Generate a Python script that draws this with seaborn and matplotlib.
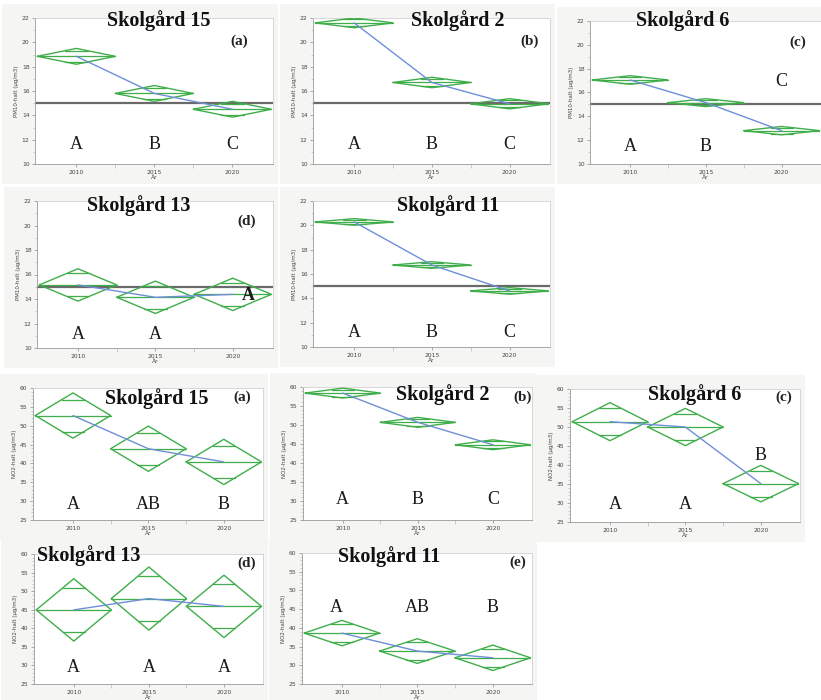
import numpy as np
import pandas as pd
import matplotlib
matplotlib.use("Agg")
import matplotlib.pyplot as plt
from matplotlib.patches import Rectangle
from matplotlib.ticker import MultipleLocator, FixedLocator
import seaborn as sns

# ---------------- data ----------------
years = ["2010", "2015", "2020"]

# PM10 (µg/m3): means and 95% CI half-widths, letters
pm10_s15_mean = [18.85, 15.80, 14.50]
pm10_s15_ci = [0.65, 0.65, 0.65]
pm10_s15_letters = ["A", "B", "C"]

pm10_s2_mean = [21.60, 16.70, 14.95]
pm10_s2_ci = [0.40, 0.43, 0.42]
pm10_s2_letters = ["A", "B", "C"]

pm10_s6_mean = [17.05, 15.15, 12.80]
pm10_s6_ci = [0.36, 0.33, 0.35]
pm10_s6_letters = ["A", "B", "C"]

pm10_s13_mean = [15.15, 14.14, 14.38]
pm10_s13_ci = [1.32, 1.32, 1.32]
pm10_s13_letters = ["A", "A", "A"]

pm10_s11_mean = [20.28, 16.74, 14.61]
pm10_s11_ci = [0.27, 0.27, 0.27]
pm10_s11_letters = ["A", "B", "C"]

pm10_limit = 15

# NO2 (µg/m3)
no2_s15_mean = [52.7, 43.9, 40.4]
no2_s15_ci = [6.0, 6.0, 6.0]
no2_s15_letters = ["A", "AB", "B"]

no2_s2_mean = [58.4, 50.7, 44.8]
no2_s2_ci = [1.3, 1.3, 1.3]
no2_s2_letters = ["A", "B", "C"]

no2_s6_mean = [51.4, 50.0, 35.1]
no2_s6_ci = [5.0, 4.9, 4.8]
no2_s6_letters = ["A", "A", "B"]

no2_s13_mean = [44.95, 48.0, 45.9]
no2_s13_ci = [8.4, 8.5, 8.4]
no2_s13_letters = ["A", "A", "A"]

no2_s11_mean = [38.6, 33.8, 32.0]
no2_s11_ci = [3.4, 3.3, 3.4]
no2_s11_letters = ["A", "AB", "B"]

# ---------------- style ----------------
sns.set_theme(style="white")
plt.rcParams["font.family"] = ["DejaVu Sans"]
SERIF = ["Liberation Serif", "DejaVu Serif"]

W, H = 821, 700
fig = plt.figure(figsize=(W / 100, H / 100), dpi=100)
fig.patch.set_facecolor("white")

GREEN = "#3fae4a"
BLUE = "#6e8fd8"
GRAY_BG = "#f5f5f3"

pm_layout = dict(ylim=(10, 22), major=2, minor=1, ylabel="PM10-halt (µg/m3)")
no2_layout = dict(ylim=(25, 60), major=5, minor=1, ylabel="NO2-halt (µg/m3)")

panels = [
    # PM10
    dict(lay=pm_layout, title="Skolgård 15", mean=pm10_s15_mean, ci=pm10_s15_ci, letters=pm10_s15_letters,
         tag="(a)", box=(35, 273, 18, 164), title_xy=(0.52, 0.985), tag_xy=(0.86, 0.84),
         lx=[0, 1, 2], ly=[11.6, 11.6, 11.6], lbold=[False] * 3, limit=True),
    dict(lay=pm_layout, title="Skolgård 2", mean=pm10_s2_mean, ci=pm10_s2_ci, letters=pm10_s2_letters,
         tag="(b)", box=(313, 550, 18, 164), title_xy=(0.61, 0.985), tag_xy=(0.915, 0.84),
         lx=[0, 1, 2], ly=[11.6, 11.6, 11.6], lbold=[False] * 3, limit=True),
    dict(lay=pm_layout, title="Skolgård 6", mean=pm10_s6_mean, ci=pm10_s6_ci, letters=pm10_s6_letters,
         tag="(c)", box=(590, 821, 21, 164), title_xy=(0.40, 1.0), tag_xy=(0.90, 0.85),
         lx=[0, 1, 2], ly=[11.5, 11.5, 16.9], lbold=[False] * 3, limit=True),
    dict(lay=pm_layout, title="Skolgård 13", mean=pm10_s13_mean, ci=pm10_s13_ci, letters=pm10_s13_letters,
         tag="(d)", box=(37, 273, 201, 348), title_xy=(0.43, 0.97), tag_xy=(0.89, 0.86),
         lx=[0, 1, 2.2], ly=[11.1, 11.1, 14.3], lbold=[False, False, True], limit=True),
    dict(lay=pm_layout, title="Skolgård 11", mean=pm10_s11_mean, ci=pm10_s11_ci, letters=pm10_s11_letters,
         tag="", box=(313, 550, 201, 347), title_xy=(0.57, 0.966), tag_xy=(0.9, 0.86),
         lx=[0, 1, 2], ly=[11.2, 11.2, 11.2], lbold=[False] * 3, limit=True),
    # NO2
    dict(lay=no2_layout, title="Skolgård 15", mean=no2_s15_mean, ci=no2_s15_ci, letters=no2_s15_letters,
         tag="(a)", box=(33, 263, 388, 520), title_xy=(0.54, 0.92), tag_xy=(0.91, 0.93),
         lx=[0, 1, 2], ly=[29.0, 29.0, 29.0], lbold=[False] * 3, limit=False),
    dict(lay=no2_layout, title="Skolgård 2", mean=no2_s2_mean, ci=no2_s2_ci, letters=no2_s2_letters,
         tag="(b)", box=(303, 532, 387, 520), title_xy=(0.61, 0.94), tag_xy=(0.96, 0.92),
         lx=[0, 1, 2], ly=[30.3, 30.3, 30.3], lbold=[False] * 3, limit=False),
    dict(lay=no2_layout, title="Skolgård 6", mean=no2_s6_mean, ci=no2_s6_ci, letters=no2_s6_letters,
         tag="(c)", box=(570, 800, 389, 522), title_xy=(0.54, 0.955), tag_xy=(0.93, 0.94),
         lx=[0.07, 1, 2], ly=[29.6, 29.6, 42.4], lbold=[False] * 3, limit=False),
    dict(lay=no2_layout, title="Skolgård 13", mean=no2_s13_mean, ci=no2_s13_ci, letters=no2_s13_letters,
         tag="(d)", box=(34, 263, 554, 684), title_xy=(0.24, 0.985), tag_xy=(0.93, 0.93),
         lx=[0, 1, 2], ly=[29.5, 29.5, 29.5], lbold=[False] * 3, limit=False),
    dict(lay=no2_layout, title="Skolgård 11", mean=no2_s11_mean, ci=no2_s11_ci, letters=no2_s11_letters,
         tag="(e)", box=(302, 532, 553, 684), title_xy=(0.38, 0.97), tag_xy=(0.94, 0.93),
         lx=[-0.08, 1, 2], ly=[45.4, 45.4, 45.4], lbold=[False] * 3, limit=False),
]

HALF = 0.5  # diamond half width (category units)

for p in panels:
    l, r, t, b = p["box"]
    lay = p["lay"]
    # light screenshot-like backdrop
    bx0, bx1 = l - 33, min(r + 5, W)
    by0, by1 = t - 14, min(b + 20, H)
    fig.patches.append(Rectangle((bx0 / W, 1 - by1 / H), (bx1 - bx0) / W, (by1 - by0) / H,
                                 transform=fig.transFigure, facecolor=GRAY_BG, edgecolor="none", zorder=0))
    ax = fig.add_axes([l / W, 1 - b / H, (r - l) / W, (b - t) / H])
    ax.set_facecolor("white")
    ax.set_zorder(1)

    df = pd.DataFrame({"pos": np.arange(len(years)), "year": years,
                       "mean": p["mean"], "ci": p["ci"]})

    # diamonds
    for _, row in df.iterrows():
        x, m, c = row["pos"], row["mean"], row["ci"]
        ax.plot([x - HALF, x, x + HALF, x, x - HALF], [m, m + c, m, m - c, m],
                color=GREEN, lw=1.0, zorder=3)
        ax.plot([x - HALF, x + HALF], [m, m], color=GREEN, lw=0.9, zorder=3)
        h = c / np.sqrt(2)
        w = HALF * (1 - h / c)
        ax.plot([x - w, x + w], [m + h, m + h], color=GREEN, lw=0.9, zorder=3)
        ax.plot([x - w, x + w], [m - h, m - h], color=GREEN, lw=0.9, zorder=3)

    # means line
    sns.lineplot(data=df, x="pos", y="mean", ax=ax, color=BLUE, lw=1.0, zorder=4,
                 estimator=None, sort=False)

    if p["limit"]:
        ax.axhline(pm10_limit, color="#6a6a6a", lw=1.6, zorder=2)

    ax.set_xlim(-0.53, 2.52)
    ax.set_ylim(*lay["ylim"])
    ax.xaxis.set_major_locator(FixedLocator([0, 1, 2]))
    ax.set_xticklabels(years)
    ax.xaxis.set_minor_locator(FixedLocator([0.5, 1.5]))
    ax.yaxis.set_major_locator(MultipleLocator(lay["major"]))
    ax.yaxis.set_minor_locator(MultipleLocator(lay["minor"]))
    ax.tick_params(axis="both", which="major", labelsize=4.3, length=2.5, width=0.5,
                   color="#888888", labelcolor="#444444", pad=1.5, direction="out",
                   bottom=True, left=True)
    ax.tick_params(axis="both", which="minor", length=1.5, width=0.4, color="#aaaaaa",
                   bottom=True, left=True)
    ax.tick_params(axis="x", which="minor", length=3)
    ax.set_xlabel("År", fontsize=4.3, color="#444444", labelpad=0.5)
    ax.set_ylabel(lay["ylabel"], fontsize=4.0, color="#444444", labelpad=2)
    for side, sp in ax.spines.items():
        sp.set_linewidth(0.6)
        sp.set_color("#999999" if side in ("left", "bottom") else "#d0d0d0")

    # texts
    ax.text(p["title_xy"][0], p["title_xy"][1], p["title"], transform=ax.transAxes,
            ha="center", va="center", fontsize=14.5, fontweight="bold", family=SERIF,
            color="#111111", zorder=6)
    if p["tag"]:
        ax.text(p["tag_xy"][0], p["tag_xy"][1], p["tag"], transform=ax.transAxes,
                ha="center", va="center", fontsize=11, fontweight="bold", family=SERIF,
                color="#222222", zorder=6)
    for lx, ly, txt, bold in zip(p["lx"], p["ly"], p["letters"], p["lbold"]):
        ax.text(lx, ly, txt, ha="center", va="center", fontsize=13,
                fontweight="bold" if bold else "normal", family=SERIF, color="#1a1a1a", zorder=6)

fig.savefig("out.png", dpi=100, facecolor="white")
